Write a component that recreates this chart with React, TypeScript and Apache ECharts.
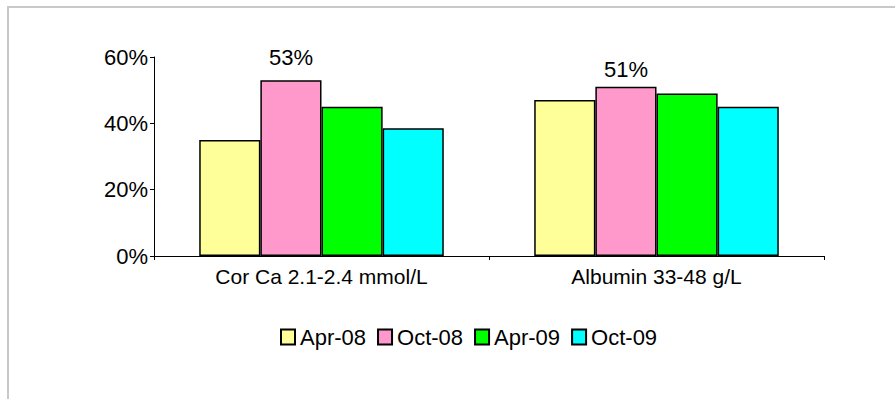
import React, { useEffect, useRef } from "react";
import * as echarts from "echarts";

const categories = ["Cor Ca 2.1-2.4 mmol/L", "Albumin 33-48 g/L"];
const seriesNames = ["Apr-08", "Oct-08", "Apr-09", "Oct-09"];
const apr08 = [35, 47];
const oct08 = [53, 51];
const apr09 = [45, 49];
const oct09 = [38.5, 45];
const yTicks = [0, 20, 40, 60];
const colors = ["#FFFF99", "#FF99CC", "#00FF00", "#00FFFF"];

const FONT = "'Liberation Sans', Arial, Helvetica, sans-serif";

export default function App() {
  const ref = useRef<HTMLDivElement>(null);

  useEffect(() => {
    if (!ref.current) return;
    const chart = echarts.init(ref.current, null, { renderer: "svg" });
    const values = [apr08, oct08, apr09, oct09];

    // only the Oct-08 bars carry value labels
    const makeData = (vals: number[], idx: number) =>
      vals.map((v, i) => {
        if (idx !== 1) return v;
        return {
          value: v,
          label: {
            show: true,
            position: "top",
            distance: i === 0 ? 12 : 6,
            formatter: "{c}%",
            color: "#000",
            fontFamily: FONT,
            fontSize: 22,
          },
        };
      });

    chart.setOption({
      animation: false,
      backgroundColor: "#ffffff",
      textStyle: { fontFamily: FONT },
      grid: { left: 154, right: 71, top: 57, bottom: 143, containLabel: false },
      graphic: [
        {
          type: "rect",
          shape: { x: 8, y: 7, width: 1200, height: 1200 },
          style: { fill: "none", stroke: "#c8c8c8", lineWidth: 2 },
          silent: true,
        },
      ],
      legend: {
        left: 275,
        top: 321,
        itemWidth: 14,
        itemHeight: 15,
        itemGap: 11,
        icon: "rect",
        data: seriesNames,
        textStyle: { fontFamily: FONT, fontSize: 22, color: "#000" },
      },
      xAxis: {
        type: "category",
        data: categories,
        axisLine: { lineStyle: { color: "#000", width: 1 } },
        axisTick: { show: true, length: 4, lineStyle: { color: "#000" } },
        axisLabel: { color: "#000", fontFamily: FONT, fontSize: 21, margin: 10 },
      },
      yAxis: {
        type: "value",
        min: yTicks[0],
        max: yTicks[yTicks.length - 1],
        interval: 20,
        splitLine: { show: false },
        axisLine: { show: true, lineStyle: { color: "#000", width: 1 } },
        axisTick: { show: true, length: 4, lineStyle: { color: "#000" } },
        axisLabel: { color: "#000", fontFamily: FONT, fontSize: 22, margin: 6, formatter: "{value}%" },
      },
      series: seriesNames.map((name, idx) => ({
        name,
        type: "bar",
        data: makeData(values[idx], idx),
        barGap: "0%",
        barCategoryGap: "27%",
        itemStyle: { color: colors[idx], borderColor: "#000", borderWidth: 1.5 },
      })),
    });

    return () => chart.dispose();
  }, []);

  return (
    <div
      ref={ref}
      style={{ position: "fixed", left: 0, top: 0, width: 895, height: 399, background: "#fff" }}
    />
  );
}
